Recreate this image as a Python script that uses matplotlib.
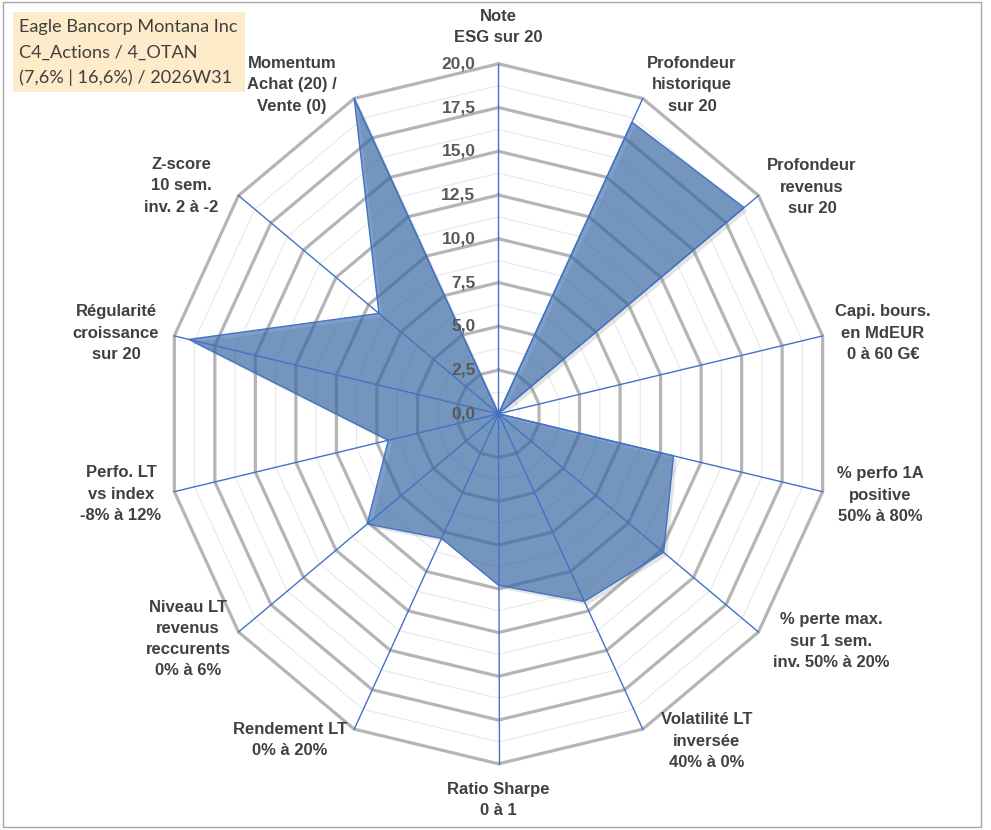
import numpy as np
import matplotlib
matplotlib.use("Agg")
import matplotlib.pyplot as plt
import matplotlib.transforms as mtransforms
from matplotlib.patches import Rectangle

# ---------------- data ----------------
categories = [
    "Note\nESG sur 20",
    "Profondeur\nhistorique\nsur 20",
    "Profondeur\nrevenus\nsur 20",
    "Capi. bours.\nen MdEUR\n0 à 60 G€",
    "% perfo 1A\npositive\n50% à 80%",
    "% perte max.\nsur 1 sem.\ninv. 50% à 20%",
    "Volatilité LT\ninversée\n40% à 0%",
    "Ratio Sharpe\n0 à 1",
    "Rendement LT\n0% à 20%",
    "Niveau LT\nrevenus\nreccurents\n0% à 6%",
    "Perfo. LT\nvs index\n-8% à 12%",
    "Régularité\ncroissance\nsur 20",
    "Z-score\n10 sem.\ninv. 2 à -2",
    "Momentum\nAchat (20) /\nVente (0)",
]
values = [0.0, 18.5, 18.9, 0.0, 10.8, 12.7, 11.9, 9.8, 7.9, 10.1, 6.8, 19.1, 9.2, 20.0]
tick_values = [0.0, 2.5, 5.0, 7.5, 10.0, 12.5, 15.0, 17.5, 20.0]
tick_labels = ["0,0", "2,5", "5,0", "7,5", "10,0", "12,5", "15,0", "17,5", "20,0"]
title_lines = ["Eagle Bancorp Montana Inc", "C4_Actions / 4_OTAN", "(7,6% | 16,6%) / 2026W31"]
vmax = 20.0

# ---------------- layout (pixels) ----------------
W, H = 991, 830
cx, cy = 498.5, 413.8          # centre of radar in px
Rx, Ry = 332.5, 350.0          # radius in px (horizontal / vertical)
label_pos = [(498, 27), (692, 85), (812, 187), (883, 333), (880, 495),
             (831, 641), (707, 741), (498, 800), (290, 740), (188, 639),
             (121, 494), (116, 333), (181, 186), (292, 85)]

fig = plt.figure(figsize=(W / 100, H / 100), dpi=100)
ax = fig.add_axes([0, 0, 1, 1])
ax.set_xlim(-cx / Rx, (W - cx) / Rx)
ax.set_ylim(-(H - cy) / Ry, cy / Ry)
ax.set_aspect("auto")
ax.axis("off")

n = len(categories)
theta = np.arange(n) * 2 * np.pi / n
ux, uy = np.sin(theta), np.cos(theta)

# grid rings
for k in range(1, 17):
    lvl = k * 1.25 / vmax
    xs = np.append(ux * lvl, ux[0] * lvl)
    ys = np.append(uy * lvl, uy[0] * lvl)
    if k % 2 == 0:
        ax.plot(xs, ys, color="#B5B5B5", lw=2.3, zorder=2, solid_joinstyle="miter")
    else:
        ax.plot(xs, ys, color="#E8E8E8", lw=0.8, zorder=1)

# data polygon
v = np.array(values) / vmax
px = np.append(ux * v, ux[0] * v[0])
py = np.append(uy * v, uy[0] * v[0])
shadow_tr = mtransforms.offset_copy(ax.transData, fig=fig, x=2.5, y=-2.5, units="points")
ax.fill(px, py, color="#808080", alpha=0.22, lw=0, zorder=3, transform=shadow_tr)
ax.fill(px, py, color="#2F65A8", alpha=0.62, lw=0, zorder=4)
ax.plot(px, py, color="#4472C4", lw=1.0, zorder=5)

# spokes
for i in range(n):
    ax.plot([0, ux[i]], [0, uy[i]], color="#4472C4", lw=1.0, zorder=6)

# radial tick labels
for tv, tl in zip(tick_values, tick_labels):
    ax.text(-23 / Rx, tv / vmax, tl, ha="right", va="center", fontsize=12.5,
            fontweight="bold", color="#595959", family="Liberation Sans", zorder=7)

# category labels
for lab, (lx, ly) in zip(categories, label_pos):
    fig.text(lx / W, 1 - ly / H, lab, ha="center", va="center", multialignment="center",
             fontsize=12, fontweight="bold", color="#404040", family="Liberation Sans",
             linespacing=1.52)

# title box
fig.patches.append(Rectangle((13 / W, 1 - 92 / H), (245 - 13) / W, (92 - 12) / H,
                             transform=fig.transFigure, facecolor="#FDEBC9",
                             edgecolor="none", zorder=0))
for j, line in enumerate(title_lines):
    fig.text(19 / W, 1 - (27 + 25.5 * j) / H, line, ha="left", va="center",
             fontsize=13.1, color="#404040", family="Lato")

# outer frame
fig.patches.append(Rectangle((3 / W, 1 - 827 / H), (981 - 3) / W, (827 - 2) / H,
                             transform=fig.transFigure, facecolor="none",
                             edgecolor="#A6A6A6", lw=1.0, zorder=10))

fig.savefig("out.png", dpi=100)
